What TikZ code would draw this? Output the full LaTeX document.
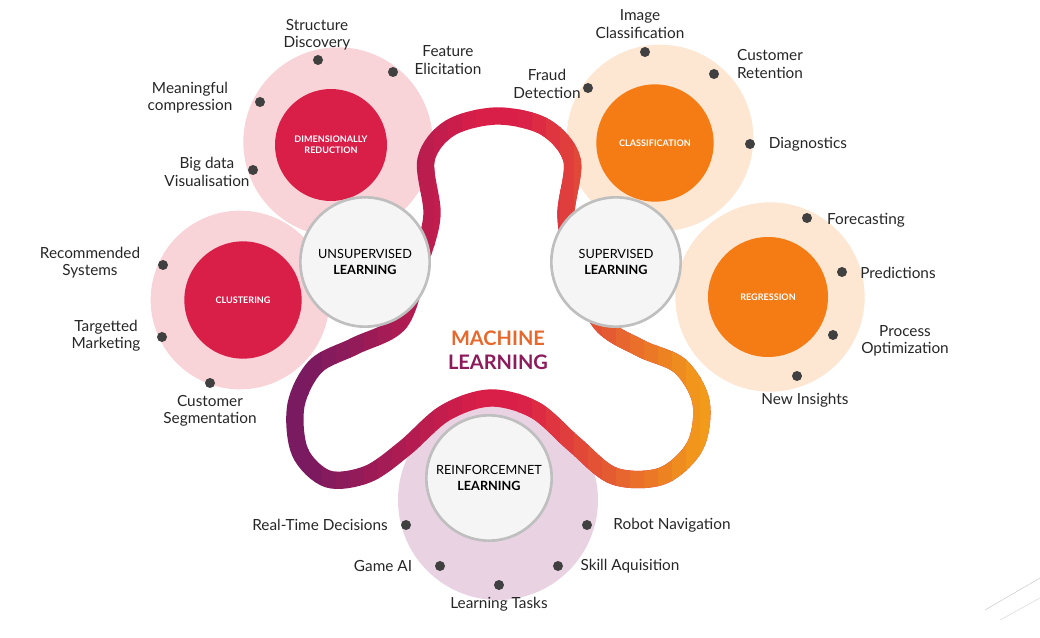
\documentclass[tikz,border=0pt]{standalone}
\usepackage{fontspec}
\setmainfont{Lato}
\begin{document}
\begin{tikzpicture}[x=0.75pt,y=-0.75pt,
 lbl/.style={font=\fontsize{11.5}{13}\selectfont,text=black!85,align=center,inner sep=1pt},
 dot/.style={circle,fill=black!75,minimum size=7.5pt,inner sep=0pt},
 main/.style={circle,fill=black!4,draw=black!25,line width=2pt,minimum size=97pt,align=center,font=\fontsize{9.5}{11.5}\selectfont},
 sub/.style={circle,minimum size=#1,text=white,align=center,font=\bfseries\fontsize{6.8}{8}\selectfont},
 halo/.style={circle,minimum size=#1,inner sep=0pt},
 band/.style={line width=13pt,line cap=round}]
\definecolor{crim}{HTML}{D91E48}
\definecolor{org}{HTML}{F29A1A}
\definecolor{purp}{HTML}{7A1A60}
\definecolor{pinkh}{HTML}{F8D3D8}
\definecolor{orgh}{HTML}{FDE6D2}
\definecolor{lavh}{HTML}{E9D3E3}
\useasboundingbox (0,0) rectangle (1040,638);
% halos
\node[halo=142pt,fill=pinkh] (hd) at (338,142) {};
\node[halo=134pt,fill=pinkh] (hc) at (240,300) {};
\node[halo=140pt,fill=orgh] (hcl) at (660,138) {};
\node[halo=142pt,fill=orgh] (hr) at (770,297) {};
\node[halo=150pt,fill=lavh] (hrl) at (498,500) {};
% band with horizontal gradient
\def\bandpath{plot[smooth cycle,tension=0.55] coordinates {(400,322) (355,346) (316,366) (296,405) (300,452) (328,479) (368,474) (405,448) (445,413) (490,398) (535,410) (574,444) (614,476) (662,476) (695,446) (701,402) (680,366) (640,348) (600,322) (575,262) (566,215) (572,160) (545,127) (497,116) (450,128) (426,160) (432,215) (420,262)}}
\foreach \i in {0,...,31}{
 \pgfmathsetmacro{\xa}{280+14*\i}
 \pgfmathsetmacro{\xb}{\xa+14.5}
 \pgfmathsetmacro{\xm}{\xa+7}
 \pgfmathsetmacro{\p}{\xm<480 ? max(0,min(100,(480-\xm)/170*100)) : 0}
 \pgfmathsetmacro{\q}{\xm>520 ? max(0,min(100,(\xm-520)/180*100)) : 0}
 \begin{scope}
 \clip (\xa,100) rectangle (\xb,500);
 \draw[band,color=purp!\p!crim] \bandpath;
 \ifdim\q pt>0pt \draw[band,color=org!\q!crim] \bandpath; \fi
 \end{scope}
}
% sub circles
\node[sub=84pt,fill=crim] (dr) at (331,145) {DIMENSIONALLY\\REDUCTION};
\node[sub=88pt,fill=crim] (cl) at (243,300) {CLUSTERING};
\node[sub=88pt,fill=org!80!red] (cs) at (655,143) {CLASSIFICATION};
\node[sub=90pt,fill=org!80!red] (rg) at (768,297) {REGRESSION};
% main circles
\node[main] (un) at (365,262) {UNSUPERVISED\\\textbf{LEARNING}};
\node[main] (su) at (616,262) {SUPERVISED\\\textbf{LEARNING}};
\node[main,minimum size=94pt] (re) at (489,478) {REINFORCEMNET\\\textbf{LEARNING}};
\node[align=center,font=\bfseries\fontsize{15}{18}\selectfont] (ml) at (498,350) {\textcolor{org!60!crim}{MACHINE}\\\textcolor{purp!80!crim}{LEARNING}};
% labels
\foreach \n/\dx/\dy/\tx/\ty/\t in {
 a/318/60/317/35/{Structure\\Discovery},
 b/393/72/448/60/{Feature\\Elicitation},
 c/260/102/190/98/{Meaningful\\compression},
 d/253/170/207/172/{Big data\\Visualisation},
 e/163/265/90/263/{Recommended\\Systems},
 f/162/337/106/336/{Targetted\\Marketing},
 g/210/383/210/411/{Customer\\Segmentation},
 h/645/52/640/24/{Image\\Classification},
 i/714/74/770/64/{Customer\\Retention},
 j/588/88/547/84/{Fraud\\Detection},
 k/750/144/808/144/{Diagnostics},
 l/807/218/866/220/{Forecasting},
 m/842/272/898/273/{Predictions},
 n/833/335/905/341/{Process\\Optimization},
 o/797/376/805/400/{New Insights},
 p/406/525/320/525/{Real-Time Decisions},
 q/587/525/672/525/{Robot Navigation},
 r/440/566/383/566/{Game AI},
 s/558/566/630/566/{Skill Aquisition},
 t/499/585/499/604/{Learning Tasks}}{
 \node[dot] (d\n) at (\dx,\dy) {};
 \node[lbl] (t\n) at (\tx,\ty) {\t};
}
\coordinate (s1) at (985,610); \coordinate (s2) at (1040,578);
\coordinate (s3) at (1000,620); \coordinate (s4) at (1040,598);
\draw[black!20] (s1) -- (s2);
\draw[black!15] (s3) -- (s4);
\end{tikzpicture}
\end{document}
